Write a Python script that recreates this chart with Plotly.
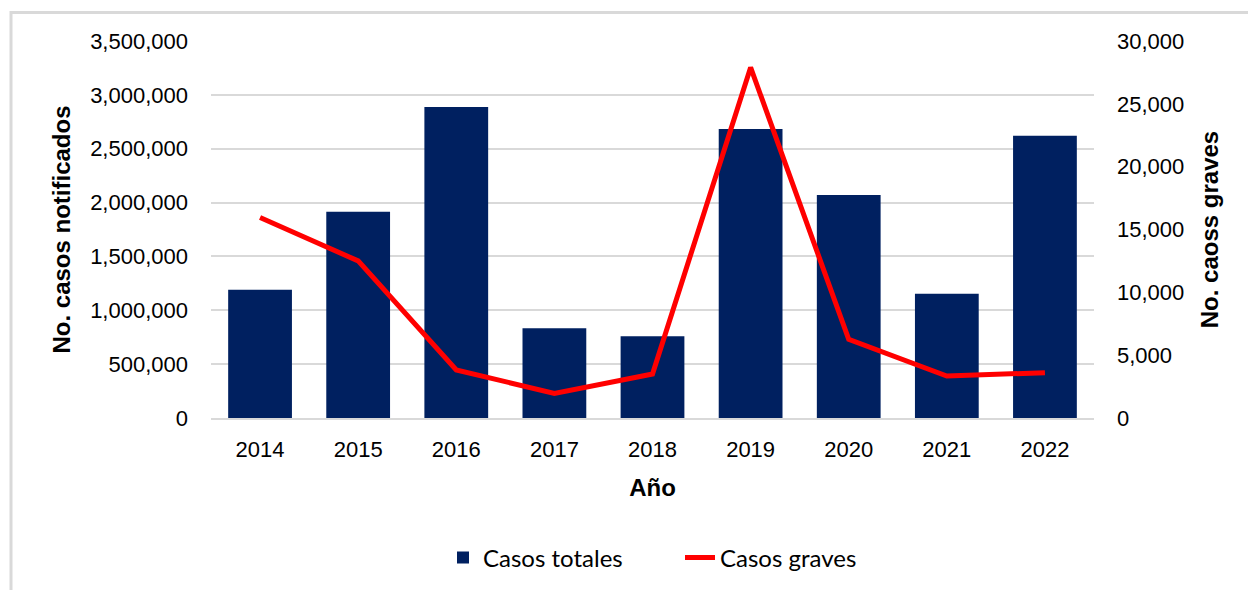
import plotly.graph_objects as go

years = ["2014", "2015", "2016", "2017", "2018", "2019", "2020", "2021", "2022"]
casos_totales = [1190000, 1915000, 2887000, 833000, 758000, 2683000, 2070000, 1154000, 2621000]
casos_graves = [15950, 12500, 3820, 1960, 3500, 27900, 6260, 3340, 3610]

left_ticks = [0, 500000, 1000000, 1500000, 2000000, 2500000, 3000000, 3500000]
right_ticks = [0, 5000, 10000, 15000, 20000, 25000, 30000]

BAR = "#002060"
RED = "#FF0000"
GRID = "#D9D9D9"
TXT = "#000000"

fig = go.Figure()
fig.add_trace(go.Bar(
    x=years, y=casos_totales, name="Casos totales",
    marker=dict(color=BAR, line=dict(width=0)), yaxis="y",
))
fig.add_trace(go.Scatter(
    x=years, y=casos_graves, name="Casos graves", mode="lines",
    line=dict(color=RED, width=5), yaxis="y2",
))

W, H = 1248, 590
L, R, T, B = 211, 154, 41, 172
pw, ph = W - L - R, H - T - B

def px(x):
    return (x - L) / pw

def py(y):
    return (H - B - y) / ph

TICK = 22
TITLE = 24

fig.update_layout(
    width=W, height=H,
    margin=dict(l=L, r=R, t=T, b=B, autoexpand=False),
    paper_bgcolor="white", plot_bgcolor="white",
    font=dict(family="Liberation Sans, Arial", size=TICK, color=TXT),
    bargap=0.35,
    showlegend=True,
    legend=dict(
        orientation="h", x=px(443), xanchor="left", y=py(558), yanchor="middle",
        font=dict(family="Lato, Open Sans", size=24, color=TXT),
        entrywidth=192, entrywidthmode="pixels",
    ),
    xaxis=dict(
        type="category", showgrid=False, showline=True, linecolor=GRID, linewidth=1.5,
        ticks="", ticklabelstandoff=11,
        title=dict(text="<b>Año</b>", font=dict(size=TITLE), standoff=18),
    ),
    yaxis=dict(
        range=[0, 3500000], tickvals=left_ticks, tickformat=",d",
        showgrid=True, gridcolor=GRID, gridwidth=1.5, zeroline=False, showline=False,
        ticks="", ticklabelstandoff=22,
        title=dict(text="<b>No. casos notificados</b>", font=dict(size=TITLE), standoff=12),
    ),
    yaxis2=dict(
        overlaying="y", side="right", range=[0, 30000], tickvals=right_ticks, tickformat=",d",
        showgrid=False, zeroline=False, showline=False, ticks="", ticklabelstandoff=22,
        title=dict(text="<b>No. caoss graves</b>", font=dict(size=TITLE), standoff=17),
    ),
    shapes=[dict(
        type="rect", xref="paper", yref="paper",
        x0=px(11), x1=px(1262), y0=py(12.5), y1=py(610),
        line=dict(color="#D9D9D9", width=3), fillcolor="rgba(0,0,0,0)", layer="below",
    )],
)

fig.write_html(
    "out.html",
    config={"displayModeBar": False},
    post_script="document.body.style.margin='0';document.body.style.overflow='hidden';",
)
